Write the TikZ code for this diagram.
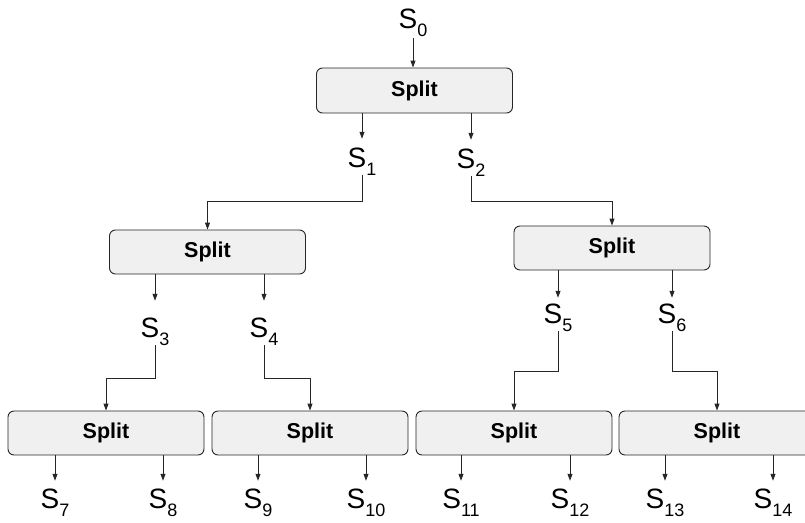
\documentclass[tikz,border=0pt]{standalone}
\usepackage{fontspec}
\setmainfont{Liberation Sans}
\usetikzlibrary{arrows.meta}
\tikzset{
  box/.style={draw=black!85, line width=0.9pt, rounded corners=6pt, fill=gray!12,
    minimum width=196pt, minimum height=44pt, inner sep=0pt,
    font=\fontsize{21.5}{21.5}\selectfont\bfseries},
  lab/.style={inner sep=0pt, font=\fontsize{28}{28}\selectfont, anchor=base},
  arr/.style={draw=black!85, line width=0.9pt, -{Triangle[length=7pt,width=5pt]}},
}
\newcommand{\Ssub}[1]{S\raisebox{-8pt}{\fontsize{18}{18}\selectfont #1}}
\begin{document}
\begin{tikzpicture}[x=1pt,y=-1pt]
\useasboundingbox (0,0) rectangle (805,522);
\clip (0,0) rectangle (805,522);
% boxes
\node[box, minimum height=45pt] (b0) at (414.5,90.5) {Split};
\node[box] (b1) at (207.5,252) {Split};
\node[box] (b2) at (612,248) {Split};
\node[box] (b3) at (106,433) {Split};
\node[box] (b4) at (310,433) {Split};
\node[box] (b5) at (514,433) {Split};
\node[box] (b6) at (717,433) {Split};
% labels
\node[lab] (s0) at (413,28) {\Ssub{0}};
\node[lab] (s1) at (362,167) {\Ssub{1}};
\node[lab] (s2) at (471,168) {\Ssub{2}};
\node[lab] (s3) at (155,337) {\Ssub{3}};
\node[lab] (s4) at (264,337) {\Ssub{4}};
\node[lab] (s5) at (558,323) {\Ssub{5}};
\node[lab] (s6) at (672,323) {\Ssub{6}};
\node[lab] (s7) at (55,508) {\Ssub{7}};
\node[lab] (s8) at (163,508) {\Ssub{8}};
\node[lab] (s9) at (258,508) {\Ssub{9}};
\node[lab] (s10) at (366,508) {\Ssub{10}};
\node[lab] (s11) at (461,508) {\Ssub{11}};
\node[lab] (s12) at (570,508) {\Ssub{12}};
\node[lab] (s13) at (665,508) {\Ssub{13}};
\node[lab] (s14) at (773,508) {\Ssub{14}};
% top
\draw[arr] ([yshift=-2pt]s0.south) -- (s0.south |- b0.north);
\draw[arr] (s1 |- b0.south) -- ([yshift=8.5pt]s1.north);
\draw[arr] (s2 |- b0.south) -- ([yshift=8.5pt]s2.north);
% level 1 to level 2
\draw[arr] (s1.south) -- (s1.south |- 0,201) -| (b1.north);
\draw[arr] (s2.south) -- (s2.south |- 0,201) -| (b2.north);
\draw[arr] (s3 |- b1.south) -- ([yshift=16.5pt]s3.north);
\draw[arr] (s4 |- b1.south) -- ([yshift=16.5pt]s4.north);
\draw[arr] (s5 |- b2.south) -- ([yshift=5.5pt]s5.north);
\draw[arr] (s6 |- b2.south) -- ([yshift=5.5pt]s6.north);
% level 2 to level 3
\draw[arr] (s3.south) -- (s3.south |- 0,378) -| (b3.north);
\draw[arr] (s4.south) -- (s4.south |- 0,378) -| (b4.north);
\draw[arr] (s5.south) -- (s5.south |- 0,371) -| (b5.north);
\draw[arr] (s6.south) -- (s6.south |- 0,371) -| (b6.north);
% bottom
\draw[arr] (s7 |- b3.south) -- ([yshift=7.5pt]s7.north);
\draw[arr] (s8 |- b3.south) -- ([yshift=7.5pt]s8.north);
\draw[arr] (s9 |- b4.south) -- ([yshift=7.5pt]s9.north);
\draw[arr] (s10 |- b4.south) -- ([yshift=7.5pt]s10.north);
\draw[arr] (s11 |- b5.south) -- ([yshift=7.5pt]s11.north);
\draw[arr] (s12 |- b5.south) -- ([yshift=7.5pt]s12.north);
\draw[arr] (s13 |- b6.south) -- ([yshift=7.5pt]s13.north);
\draw[arr] (s14 |- b6.south) -- ([yshift=7.5pt]s14.north);
\end{tikzpicture}
\end{document}
